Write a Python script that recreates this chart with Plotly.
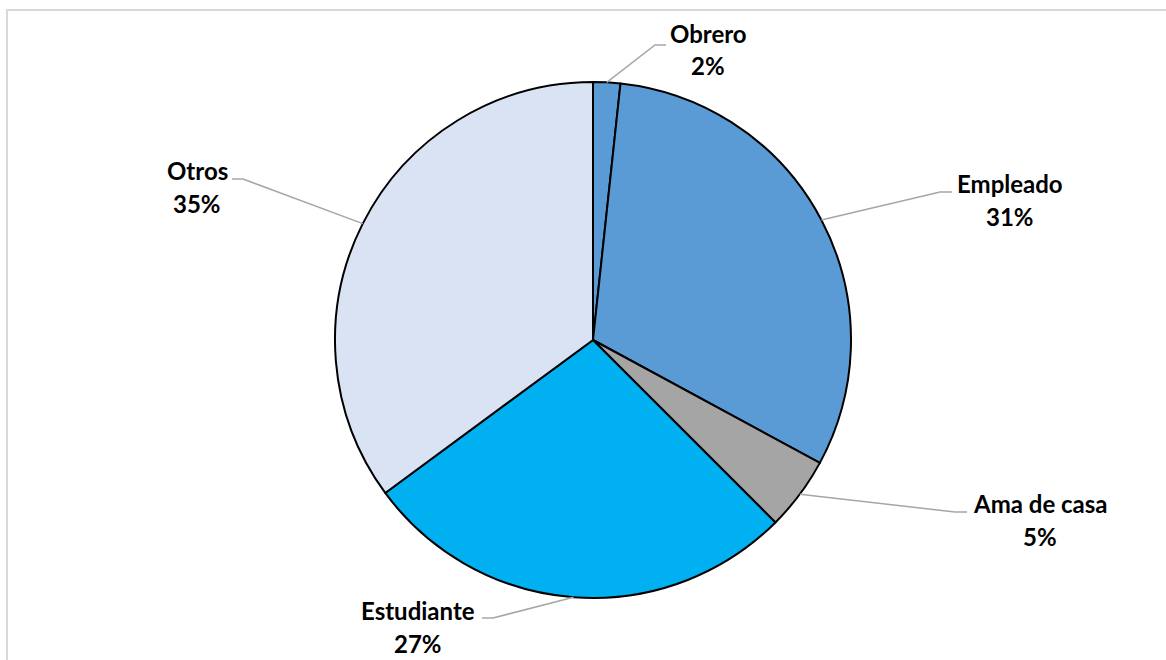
import math
import plotly.graph_objects as go

# ---- data ----
categories = ["Obrero", "Empleado", "Ama de casa", "Estudiante", "Otros"]
values = [1.7, 31.2, 4.6, 27.4, 35.1]
colors = ["#5B9BD5", "#5B9BD5", "#A5A5A5", "#00B0F0", "#DAE3F3"]

# ---- layout constants (pixels) ----
W, H = 1166, 660
CX, CY, R = 593, 340, 258
# label text centre and the two elbow points of the leader line
label_pos = {
    "Obrero": (708, 33, 666, 45, 655, 45),
    "Empleado": (1010, 183, 952, 192, 940, 192),
    "Ama de casa": (1040, 503, 967, 512, 955, 512),
    "Estudiante": (418, 610, 482, 618, 493, 618),
    "Otros": (197, 170, 232, 179, 243, 179),
}
LINE_GAP = 33
FONT = dict(family="Lato, 'Open Sans', sans-serif", size=24, color="#000000")


def px(x):
    return x / W


def py(y):
    return 1 - y / H


fig = go.Figure(
    go.Pie(
        labels=categories,
        values=values,
        sort=False,
        direction="clockwise",
        rotation=0,
        marker=dict(colors=colors, line=dict(color="#000000", width=2)),
        textinfo="none",
        hoverinfo="label+percent",
        domain=dict(x=[px(CX - R), px(CX + R)], y=[py(CY + R), py(CY - R)]),
        showlegend=False,
    )
)

total = sum(values)
cum = 0.0
shapes = []
annotations = []
for name, v in zip(categories, values):
    theta = 2 * math.pi * (cum + v / 2) / total
    cum += v
    ex = CX + R * math.sin(theta)
    ey = CY - R * math.cos(theta)
    tx, ty, ax, ay, bx, by = label_pos[name]
    shapes.append(
        dict(
            type="path",
            xref="paper",
            yref="paper",
            path=f"M {px(ax)},{py(ay)} L {px(bx)},{py(by)} L {px(ex)},{py(ey)}",
            line=dict(color="#A6A6A6", width=1.5),
        )
    )
    pct = math.floor(v / total * 100 + 0.5)
    annotations.append(
        dict(x=px(tx), y=py(ty), xref="paper", yref="paper", text=f"<b>{name}</b>",
             showarrow=False, xanchor="center", yanchor="middle", font=FONT)
    )
    annotations.append(
        dict(x=px(tx), y=py(ty + LINE_GAP), xref="paper", yref="paper", text=f"<b>{pct}%</b>",
             showarrow=False, xanchor="center", yanchor="middle", font=FONT)
    )

# chart-area border (only top and left visible)
shapes.append(
    dict(type="rect", xref="paper", yref="paper", x0=px(7), y0=-0.2, x1=1.2, y1=py(10),
         line=dict(color="#D9D9D9", width=2), fillcolor="rgba(0,0,0,0)", layer="below")
)

fig.update_layout(
    width=W,
    height=H,
    margin=dict(l=0, r=0, t=0, b=0, pad=0),
    paper_bgcolor="#FFFFFF",
    plot_bgcolor="#FFFFFF",
    shapes=shapes,
    annotations=annotations,
)

fig.write_html("out.html")
